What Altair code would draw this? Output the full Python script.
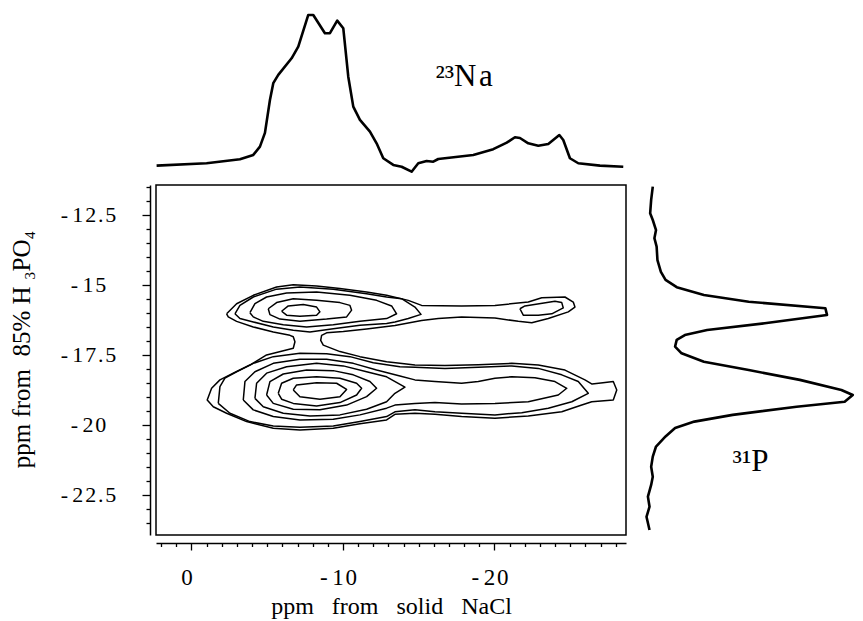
import altair as alt
import pandas as pd

FONT = "Liberation Serif"

# ---------------- axis ranges (ppm) ----------------
x_domain = [2.34, -28.68]          # 23Na shift, plotted right-to-left
y_domain = [-23.93, -11.43]        # 31P shift
top_int_domain = [-4, 104.6]
right_int_domain = [-5, 101]

# ---------------- ticks ----------------
x_major = [0, -10, -20]
x_major_labels = ["0", "-10", "-20"]
x_ticks = [2, 1, 0, -1, -2, -3, -4, -5, -6, -7, -8, -9, -10, -11, -12, -13, -14, -15,
           -16, -17, -18, -19, -20, -21, -22, -23, -24, -25, -26, -27, -28]
y_major = [-12.5, -15, -17.5, -20, -22.5]
y_major_labels = ["-12.5", "-15", "-17.5", "-20", "-22.5"]
y_ticks = [-11.5, -12, -12.5, -13, -13.5, -14, -14.5, -15, -15.5, -16, -16.5, -17, -17.5,
           -18, -18.5, -19, -19.5, -20, -20.5, -21, -21.5, -22, -22.5, -23, -23.5]

# ---------------- 23Na projection (top) ----------------
na_ppm = [2.3, -1.00, -3.20, -4.08, -4.52, -4.85, -5.18, -5.40, -5.73, -6.61, -7.05, -7.71,
          -8.04, -8.81, -9.14, -9.62, -10.02, -10.35, -10.68, -11.12, -11.78, -12.22, -12.66,
          -13.32, -13.87, -14.53, -14.97, -15.52, -15.96, -16.29, -18.60, -19.92, -20.81,
          -21.35, -21.68, -22.23, -22.89, -23.55, -24.28, -24.54, -24.98, -25.53, -26.96, -28.50]
na_int = [0.2, 1.8, 4.4, 7.3, 12.8, 21.9, 43.7, 54.8, 60.3, 71.3, 79.0, 100, 100, 87.9, 87.9,
          96.2, 91.2, 59.1, 39.3, 30.5, 22.7, 15.0, 5.1, 0.7, -0.5, -3.8, 1.8, 3.3, 2.8, 4.6,
          7.3, 11.1, 15.4, 19.0, 18.5, 15.0, 13.4, 14.6, 20.5, 17.2, 5.1, 1.8, 0.2, -0.5]

# ---------------- 31P projection (right) ----------------
p_ppm = [-11.49, -11.96, -12.44, -12.68, -13.04, -13.33, -13.63, -14.11, -14.53, -14.82,
         -15.08, -15.36, -15.60, -15.83, -16.07, -16.37, -16.61, -16.79, -16.96, -17.20,
         -17.44, -17.74, -18.04, -18.39, -18.75, -18.93, -19.17, -19.35, -19.64, -19.88,
         -20.11, -20.41, -20.77, -21.13, -21.49, -21.85, -22.14, -22.56, -22.92, -23.28, -23.75]
p_int = [1.3, 0.5, 0.0, 1.3, 2.9, 2.1, 3.2, 3.6, 5.3, 7.6, 13.1, 26.5, 48.6, 86.4, 87.2,
         56.5, 28.1, 17.1, 13.1, 12.3, 15.5, 26.5, 48.6, 73.8, 94.3, 99.9, 95.9, 72.2, 40.7,
         21.8, 12.3, 7.6, 2.9, 1.3, 0.5, 1.3, 0.5, -1.1, -0.3, -1.8, -0.3]

# ---------------- contour lines (Na ppm, P ppm) ----------------
outer_x = [-2.32, -2.98, -4.08, -5.62, -6.72, -8.26, -9.80, -11.56, -12.88, -14.31, -15.19,
           -17.83, -20.03, -22.23, -23.12, -24.65, -25.20, -25.31, -24.87, -23.55, -22.46,
           -21.57, -20.03, -17.83, -16.29, -15.19, -13.43, -11.56, -10.02, -8.92, -8.59,
           -8.53, -8.70, -9.80, -11.12, -12.88, -13.76, -14.75, -16.73, -18.93, -21.14,
           -22.89, -24.65, -25.97, -26.44, -27.16, -27.84, -28.07, -27.84, -26.42, -25.76,
           -24.44, -22.23, -20.03, -17.83, -16.07, -14.75, -13.43, -12.88, -11.12, -9.36,
           -7.16, -5.40, -3.64, -2.32, -1.44, -1.04, -1.33, -1.88, -2.76, -3.86, -4.96,
           -6.72, -6.83, -6.72, -6.50, -5.40, -4.08, -2.98, -2.43]
outer_y = [-16.03, -15.67, -15.37, -15.07, -14.99, -15.04, -15.13, -15.25, -15.37, -15.55,
           -15.73, -15.75, -15.73, -15.61, -15.46, -15.43, -15.61, -15.79, -15.96, -16.20,
           -16.35, -16.30, -16.18, -16.14, -16.20, -16.27, -16.45, -16.57, -16.66, -16.71,
           -16.80, -16.98, -17.15, -17.38, -17.56, -17.74, -17.80, -17.86, -17.88, -17.85,
           -17.80, -17.86, -18.04, -18.39, -18.54, -18.49, -18.45, -18.75, -19.11, -19.17,
           -19.29, -19.53, -19.68, -19.76, -19.70, -19.62, -19.58, -19.62, -19.82, -19.96,
           -20.12, -20.18, -20.12, -19.88, -19.58, -19.35, -19.11, -18.69, -18.39, -18.15,
           -17.86, -17.50, -17.26, -17.03, -16.85, -16.80, -16.68, -16.50, -16.30, -16.14]

up2_x = [-2.87, -3.20, -4.08, -5.62, -7.16, -9.36, -11.56, -12.88, -13.87, -14.75, -15.15,
         -14.31, -13.43, -12.88, -11.12, -9.36, -7.82, -6.72, -5.40, -4.08, -3.20]
up2_y = [-16.03, -15.73, -15.43, -15.15, -15.07, -15.15, -15.31, -15.43, -15.49, -15.79,
         -16.05, -16.20, -16.32, -16.38, -16.44, -16.56, -16.68, -16.62, -16.50, -16.32, -16.20]
up3_x = [-3.86, -4.19, -4.96, -6.28, -8.26, -10.46, -12.22, -13.21, -13.54, -12.88, -11.12,
         -9.36, -7.60, -6.06, -4.74, -4.08]
up3_y = [-15.99, -15.67, -15.43, -15.29, -15.25, -15.37, -15.55, -15.75, -16.03, -16.20,
         -16.30, -16.42, -16.50, -16.42, -16.30, -16.14]
up4_x = [-5.07, -5.62, -6.72, -8.26, -9.80, -10.46, -10.57, -10.24, -8.92, -7.16, -5.84, -5.18]
up4_y = [-15.85, -15.63, -15.49, -15.55, -15.63, -15.73, -15.90, -16.14, -16.22, -16.30,
         -16.22, -16.06]
up5_x = [-5.95, -6.39, -7.38, -8.26, -8.48, -8.26, -7.16, -6.28]
up5_y = [-15.94, -15.75, -15.70, -15.79, -15.96, -16.08, -16.12, -16.08]
tail_x = [-21.68, -22.01, -23.99, -24.44, -24.54, -23.78, -22.89, -21.90]
tail_y = [-15.85, -15.75, -15.58, -15.63, -15.82, -16.03, -16.08, -16.08]

lo2_x = [-1.77, -1.88, -2.21, -2.98, -4.08, -5.40, -7.16, -8.92, -10.46, -12.00, -13.76,
         -14.75, -16.73, -18.93, -21.14, -22.89, -24.44, -25.53, -26.19, -25.10, -23.55,
         -21.80, -20.03, -17.83, -16.07, -14.75, -13.43, -12.88, -11.12, -9.36, -7.16,
         -5.40, -3.86, -2.54]
lo2_y = [-19.23, -18.63, -18.33, -18.10, -17.80, -17.56, -17.44, -17.46, -17.56, -17.78,
         -17.92, -17.94, -17.98, -17.94, -17.89, -17.98, -18.21, -18.45, -18.87, -19.17,
         -19.40, -19.56, -19.64, -19.58, -19.53, -19.46, -19.53, -19.70, -19.88, -20.04,
         -20.08, -20.04, -19.88, -19.58]
lo3_x = [-3.42, -3.53, -4.19, -5.40, -7.16, -8.92, -10.68, -12.22, -13.76, -14.75, -16.07,
         -17.83, -18.93, -20.03, -21.14, -22.67, -23.99, -24.77, -24.21, -22.23, -20.03,
         -17.83, -16.07, -14.75, -13.43, -12.88, -11.12, -9.36, -7.16, -5.40, -4.08]
lo3_y = [-19.11, -18.45, -18.10, -17.80, -17.65, -17.65, -17.80, -18.04, -18.25, -18.39,
         -18.45, -18.51, -18.45, -18.33, -18.28, -18.31, -18.45, -18.69, -18.93, -19.17,
         -19.23, -19.25, -19.20, -19.23, -19.29, -19.40, -19.64, -19.80, -19.82, -19.70, -19.46]
lo4_x = [-4.19, -4.30, -4.96, -6.28, -8.26, -10.02, -11.56, -12.88, -14.09, -13.43, -12.88,
         -11.56, -9.80, -7.82, -6.06, -4.74]
lo4_y = [-19.05, -18.51, -18.15, -17.92, -17.80, -17.89, -18.10, -18.28, -18.65, -18.87,
         -19.17, -19.44, -19.64, -19.68, -19.58, -19.35]
lo5_x = [-4.96, -5.18, -6.06, -7.60, -9.36, -10.68, -11.78, -12.22, -11.56, -10.24, -8.48,
         -6.72, -5.40]
lo5_y = [-18.93, -18.45, -18.18, -18.04, -18.06, -18.21, -18.45, -18.69, -18.99, -19.29,
         -19.46, -19.44, -19.23]
lo6_x = [-5.73, -5.95, -6.72, -8.26, -9.80, -10.90, -11.23, -10.90, -9.80, -8.26, -6.72, -5.95]
lo6_y = [-18.87, -18.51, -18.33, -18.28, -18.33, -18.51, -18.69, -18.93, -19.20, -19.32,
         -19.23, -19.08]
lo7_x = [-6.72, -6.94, -8.26, -9.58, -10.24, -9.80, -8.48, -7.16]
lo7_y = [-18.75, -18.57, -18.49, -18.51, -18.73, -18.99, -19.08, -18.99]

# ---------------- texts ----------------
na_label = "²³N\u200aa"
na_label_pos = [-18.0, 58.9]       # (Na ppm, intensity)
p_label = "³¹P"
p_label_pos = [49.5, -21.32]       # (intensity, P ppm)
x_title = "ppm\u00a0\u00a0\u00a0from\u00a0\u00a0\u00a0solid\u00a0\u00a0\u00a0NaCl"
y_title = "ppm\u00a0from\u00a0\u00a085%\u00a0H\u00a0₃PO₄"

# ---------------- build frames ----------------
contours = {
    "outer": (outer_x, outer_y), "up2": (up2_x, up2_y), "up3": (up3_x, up3_y),
    "up4": (up4_x, up4_y), "up5": (up5_x, up5_y), "tail": (tail_x, tail_y),
    "lo2": (lo2_x, lo2_y), "lo3": (lo3_x, lo3_y), "lo4": (lo4_x, lo4_y),
    "lo5": (lo5_x, lo5_y), "lo6": (lo6_x, lo6_y), "lo7": (lo7_x, lo7_y),
}
rows = []
for name, (xs, ys) in contours.items():
    pts = list(zip(xs, ys)) + [(xs[0], ys[0])]
    for i, (a, b) in enumerate(pts):
        rows.append({"cid": name, "i": i, "x": a, "y": b})
cont_df = pd.DataFrame(rows)
na_df = pd.DataFrame({"x": na_ppm, "y": na_int, "i": list(range(len(na_ppm)))})
p_df = pd.DataFrame({"x": p_int, "y": p_ppm, "i": list(range(len(p_ppm)))})


def spaced(s):
    out = ""
    for k, ch in enumerate(s):
        out += ch
        if k < len(s) - 1:
            out += "\u2009" if ch == "-" else "\u200a"
    return out


def label_expr(values, labels):
    expr = ""
    for v, l in zip(values, labels):
        expr += f"datum.value === {v} ? '{spaced(l)}' : "
    return expr + "''"


xs_main = alt.Scale(domain=x_domain, nice=False, zero=False)
ys_main = alt.Scale(domain=y_domain, nice=False, zero=False)
ys_top = alt.Scale(domain=top_int_domain, nice=False, zero=False)
xs_right = alt.Scale(domain=right_int_domain, nice=False, zero=False)

# ---------------- top projection ----------------
top_line = alt.Chart(na_df).mark_line(color="black", strokeWidth=2.6, strokeJoin="round").encode(
    x=alt.X("x:Q", scale=xs_main, axis=None),
    y=alt.Y("y:Q", scale=ys_top, axis=None),
    order=alt.Order("i:Q"),
)
top_text = alt.Chart(pd.DataFrame({"x": [na_label_pos[0]], "y": [na_label_pos[1]], "t": [na_label]})).mark_text(
    font=FONT, fontSize=31, color="black"
).encode(
    x=alt.X("x:Q", scale=xs_main, axis=None),
    y=alt.Y("y:Q", scale=ys_top, axis=None),
    text="t:N",
)
top = alt.layer(top_line, top_text).properties(
    width=470, height=164, view=alt.ViewBackground(strokeWidth=0)
)

# ---------------- main contour plot ----------------
x_axis = alt.Axis(
    values=x_ticks, orient="bottom", offset=8, grid=False,
    domainColor="black", domainWidth=1.5, tickColor="black", tickWidth=1.3,
    tickSize={"condition": {"test": "datum.value % 10 === 0", "value": 7}, "value": 3.5},
    labelExpr=label_expr(x_major, x_major_labels), labelOverlap=False, labelFlush=False,
    labelFont=FONT, labelFontSize=23, labelColor="black", labelPadding=16, labelOffset=-5,
    title=x_title, titleFont=FONT, titleFontSize=24, titleFontWeight="normal",
    titleColor="black", titlePadding=5,
)
y_axis = alt.Axis(
    values=y_ticks, orient="left", offset=6, grid=False,
    domainColor="black", domainWidth=1.5, tickColor="black", tickWidth=1.3,
    tickSize={"condition": {"test": "datum.value % 2.5 === 0", "value": 8}, "value": 4},
    labelExpr=label_expr(y_major, y_major_labels), labelOverlap=False, labelFlush=False,
    labelFont=FONT, labelFontSize=22, labelColor="black", labelPadding=54,
    labelAlign="center", labelBaseline="middle",
    title=y_title, titleFont=FONT, titleFontSize=25, titleFontWeight="normal",
    titleColor="black", titlePadding=26, titleY=164,
)
main = alt.Chart(cont_df).mark_line(color="black", strokeWidth=1.5, strokeJoin="round").encode(
    x=alt.X("x:Q", scale=xs_main, axis=x_axis),
    y=alt.Y("y:Q", scale=ys_main, axis=y_axis),
    detail="cid:N",
    order=alt.Order("i:Q"),
).properties(width=470, height=350, view=alt.ViewBackground(stroke="black", strokeWidth=1.5))

# ---------------- right projection ----------------
right_line = alt.Chart(p_df).mark_line(color="black", strokeWidth=2.6, strokeJoin="round").encode(
    x=alt.X("x:Q", scale=xs_right, axis=None),
    y=alt.Y("y:Q", scale=ys_main, axis=None),
    order=alt.Order("i:Q"),
)
right_text = alt.Chart(pd.DataFrame({"x": [p_label_pos[0]], "y": [p_label_pos[1]], "t": [p_label]})).mark_text(
    font=FONT, fontSize=31, color="black"
).encode(
    x=alt.X("x:Q", scale=xs_right, axis=None),
    y=alt.Y("y:Q", scale=ys_main, axis=None),
    text="t:N",
)
right = alt.layer(right_line, right_text).properties(
    width=215, height=350, view=alt.ViewBackground(strokeWidth=0)
)

row = alt.hconcat(main, right, spacing=14, bounds="flush")
chart = alt.vconcat(top, row, spacing=13, bounds="flush").properties(
    padding={"left": 0, "top": 0, "right": 0, "bottom": 0}
).configure_view(strokeWidth=0).configure(background="white")

chart.save("out.html", embed_options={"renderer": "svg", "actions": False})
